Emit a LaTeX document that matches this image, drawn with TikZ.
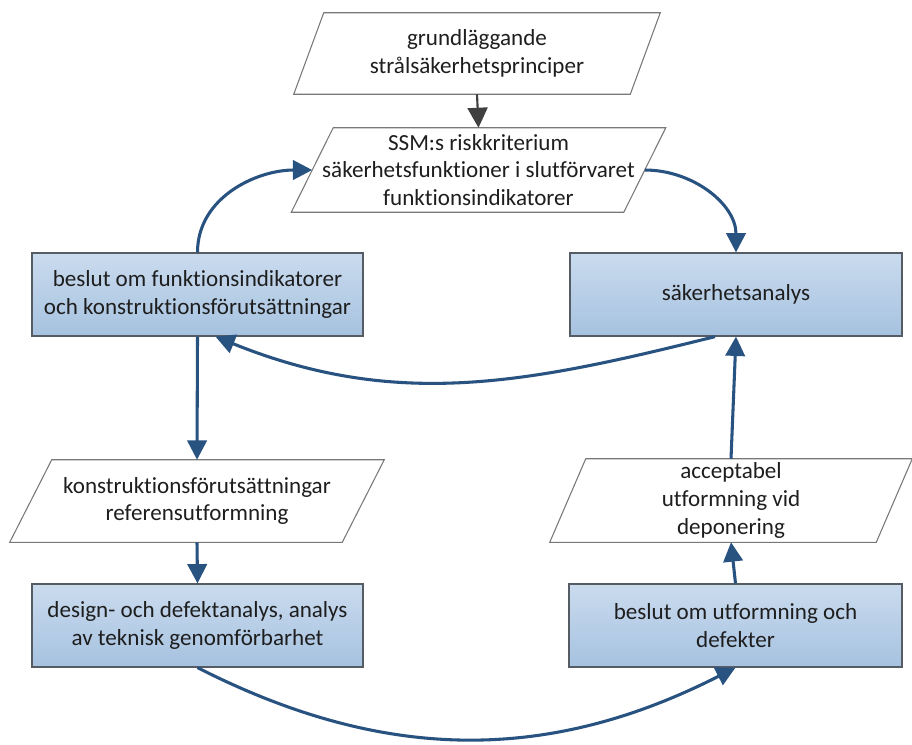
\documentclass[tikz,border=0pt]{standalone}
\usepackage{fontspec}
\setmainfont{Carlito}[Ligatures=NoCommon]
\usetikzlibrary{arrows.meta,calc}
\definecolor{arrowblue}{RGB}{40,82,128}
\definecolor{boxtop}{RGB}{202,219,238}
\definecolor{boxbot}{RGB}{166,194,224}
\definecolor{boxborder}{RGB}{85,92,100}
\definecolor{paraborder}{RGB}{120,120,120}
\definecolor{txt}{RGB}{30,30,30}
\definecolor{grayarrow}{RGB}{64,64,64}
\newcommand\paraoutline[2]{\draw[paraline] ($(#1.north west)+(#2,0)$) -- ($(#1.north east)+(#2,0)$) -- ($(#1.south east)-(#2,0)$) -- ($(#1.south west)-(#2,0)$) -- cycle;}
\begin{document}
\begin{tikzpicture}[x=0.75pt,y=0.75pt,
  every node/.style={font=\fontsize{17.3}{20.9}\selectfont, text=txt, align=center, inner sep=0pt},
  boxnode/.style={draw=boxborder, line width=0.9pt, top color=boxtop, bottom color=boxbot, minimum height=62.25pt},
  paranode/.style={minimum height=62pt},
  paraline/.style={draw=paraborder, line width=0.8pt},
  flow/.style={draw=arrowblue, line width=2.3pt, -{Triangle[length=14.5pt,width=14.5pt]}},
  grayflow/.style={draw=grayarrow, line width=1.6pt, -{Triangle[length=15pt,width=15pt]}}]
\useasboundingbox (0,0) rectangle (912,-744);
\fill[white] (0,0) rectangle (912,-744);

% parallelograms
\node[paranode, minimum width=252pt, minimum height=60.75pt] (p1) at (477,-53.5) {grundläggande\\strålsäkerhetsprinciper};
\node[paranode, minimum width=249pt, minimum height=63pt] (p2) at (478.5,-170) {SSM:s riskkriterium\\säkerhetsfunktioner i slutförvaret\\funktionsindikatorer};
\node[paranode, minimum width=249pt, minimum height=61.5pt] (p3) at (197,-501) {konstruktionsförutsättningar\\referensutformning};
\node[paranode, minimum width=244.5pt, minimum height=62.25pt] (p4) at (731,-500.5) {acceptabel\\utformning vid\\deponering};
\paraoutline{p1}{15}
\paraoutline{p2}{21}
\paraoutline{p3}{21}
\paraoutline{p4}{18}

% boxes
\node[boxnode, minimum width=248.25pt] (b1) at (197.5,-294.5) {beslut om funktionsindikatorer\\och konstruktionsförutsättningar};
\node[boxnode, minimum width=249pt] (b2) at (736,-294.5) {säkerhetsanalys};
\node[boxnode, minimum width=248.25pt] (b3) at (197.5,-625.5) {design- och defektanalys, analys\\av teknisk genomförbarhet};
\node[boxnode, minimum width=249.75pt] (b4) at (735.5,-625.5) {beslut om utformning och\\defekter};

% connectors
\draw[grayflow] (p1.south) -- (p2.north);
\draw[flow] (b1.north) to[out=90,in=180] (p2.west);
\draw[flow] (p2.east) to[out=0,in=90] (b2.north);
\draw[flow] ($(b2.south)+(-21,0)$) to[out=194,in=-22] ($(b1.south)+(18,0)$);
\draw[flow] (b1.south) -- (p3.north);
\draw[flow] (p3.south) -- (b3.north);
\draw[flow] (b3.south) to[out=-27,in=-153] (b4.south);
\draw[flow] (b4.north) -- (p4.south);
\draw[flow] (p4.north) -- (b2.south);
\end{tikzpicture}
\end{document}
